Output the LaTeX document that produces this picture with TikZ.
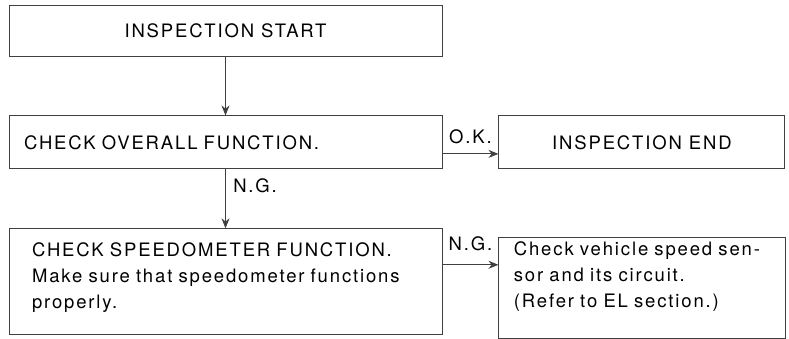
\documentclass[tikz,border=0pt]{standalone}
\usepackage{fontspec}
\setmainfont{TeX Gyre Heros}[LetterSpace=10]
\usetikzlibrary{positioning,arrows.meta}

\begin{document}
\begin{tikzpicture}[>={Stealth[length=10pt,width=8pt]}, node distance=59pt,
    font=\fontsize{18.5}{26}\selectfont,
    stepbox/.style={draw=black!75, line width=0.9pt, rectangle, inner ysep=4pt},
    flow/.style={->, draw=black!75, line width=0.9pt}]

  \useasboundingbox (0,0) rectangle (789pt,339pt);

  %--- Start of the inspection
  \node[stepbox, minimum width=433pt, minimum height=51pt] (start)
    at (225.5pt,308.5pt) {INSPECTION START};

  %--- Overall function check and end
  \node[stepbox, below=59pt of start, text width=403pt, inner xsep=15pt,
        align=left, minimum height=53pt] (overall) {CHECK OVERALL FUNCTION.};
  \node[stepbox, right=56pt of overall, minimum width=286pt,
        minimum height=53pt] (finish) {INSPECTION END};

  %--- Speedometer check and sensor
  \node[stepbox, below=59pt of overall, minimum width=433pt,
        minimum height=106pt] (speedo) {};
  \node[align=left, text width=387pt, inner sep=0pt] (speedotext)
    at ([yshift=4pt]speedo.center)
    {CHECK SPEEDOMETER FUNCTION.\\
     Make sure that speedometer functions\\
     properly.};
  \node[stepbox, right=56pt of speedo, yshift=-6.5pt, minimum width=287pt,
        minimum height=101pt] (sensor) {};
  \node[align=left, text width=257pt, inner sep=0pt] (sensortext)
    at ([yshift=12pt]sensor.center)
    {Check vehicle speed sen-\\
     sor and its circuit.\\
     (Refer to EL section.)};

  %--- Connectors
  \draw[flow] (start) -- (overall);
  \draw[flow] (overall) -- node[pos=0.27, right=4pt] (ngdown) {N.G.} (speedo);
  \draw[flow] ([yshift=-11.5pt]overall.east)
    -- node[midway, above=6pt] (ok) {O.K.}
    ([yshift=-11.5pt]overall.east -| finish.west);
  \draw[flow] ([yshift=17pt]speedo.east)
    -- node[midway, above=10pt] (ngright) {N.G.}
    ([yshift=17pt]speedo.east -| sensor.west);

\end{tikzpicture}
\end{document}
